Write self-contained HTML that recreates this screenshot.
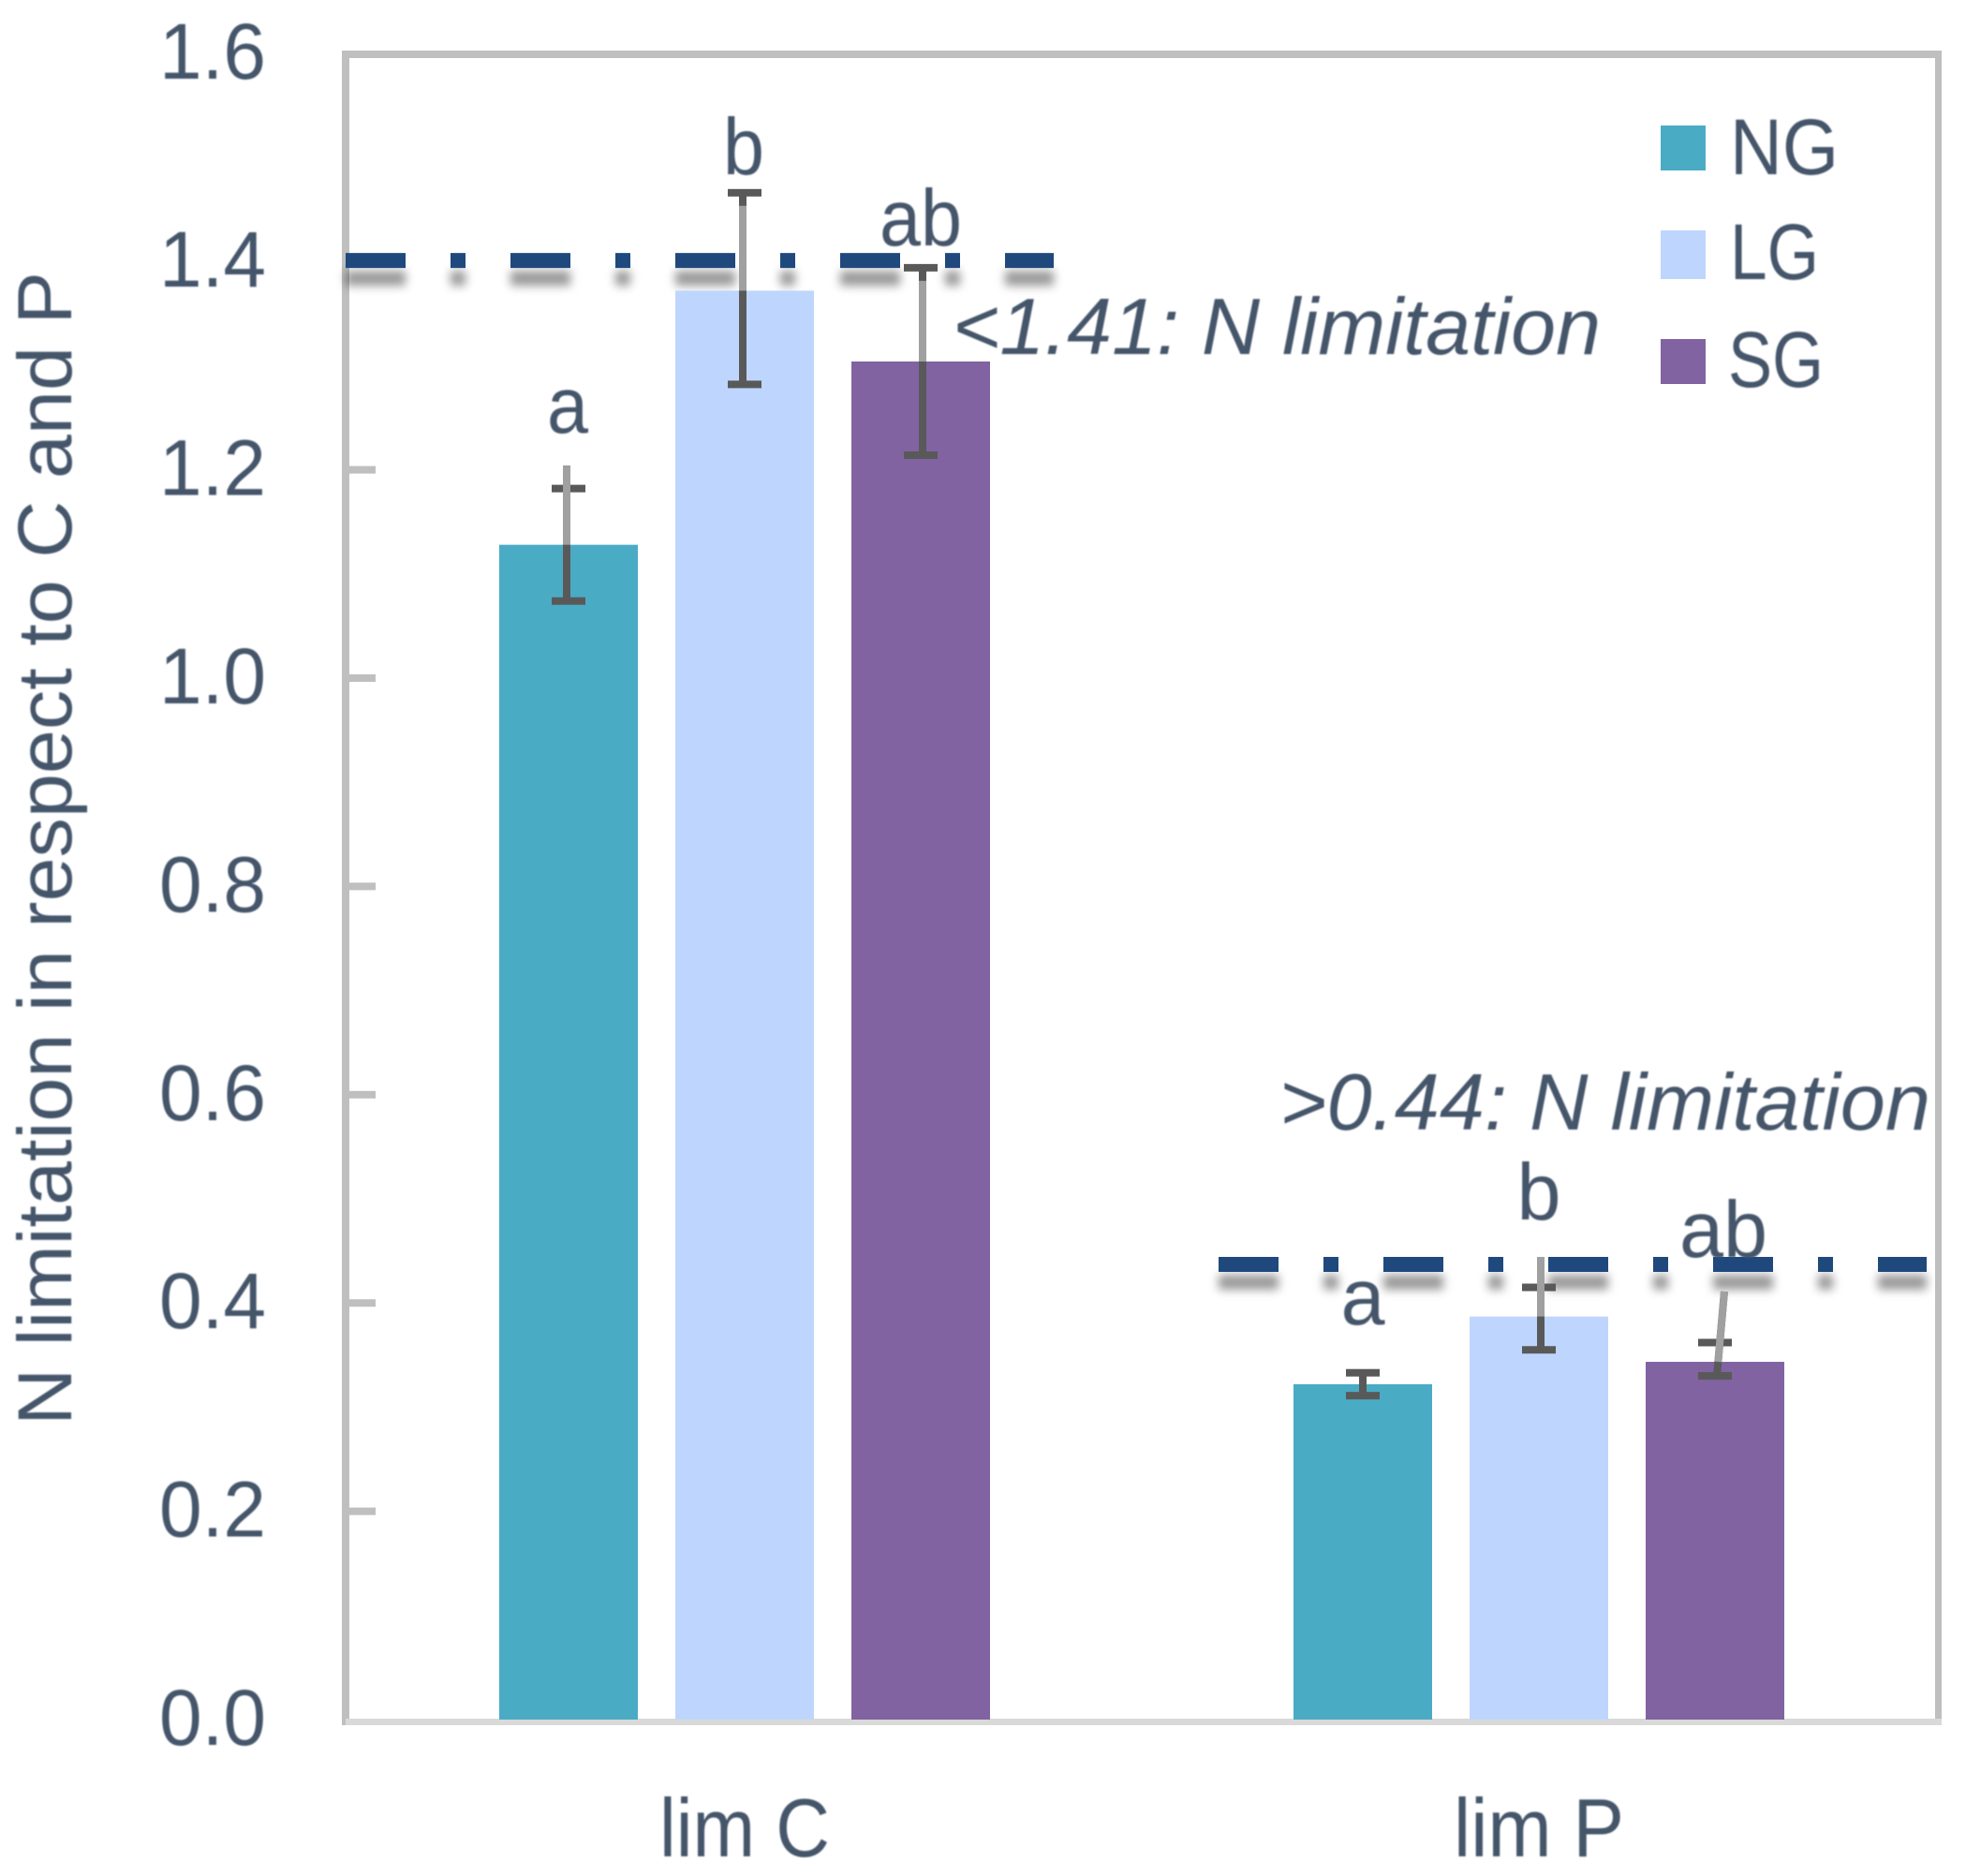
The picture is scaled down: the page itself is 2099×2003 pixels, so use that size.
<!DOCTYPE html>
<html lang="en">
<head>
<meta charset="utf-8">
<title>N limitation in respect to C and P</title>
<style>
  html, body { margin: 0; padding: 0; background: #ffffff; }
  body { width: 2099px; height: 2003px; overflow: hidden; }
  svg { display: block; }
  text { font-family: "Liberation Sans", sans-serif; fill: #44546a; }
</style>
</head>
<body>
<svg id="chart" xmlns="http://www.w3.org/2000/svg" width="2099" height="2003" viewBox="0 0 2099 2003">
  <defs>
    <filter id="dash-shadow-blur" filterUnits="userSpaceOnUse" x="0" y="0" width="2099" height="2003">
      <feGaussianBlur stdDeviation="5"></feGaussianBlur>
    </filter>
    <filter id="soft" filterUnits="userSpaceOnUse" x="0" y="0" width="2099" height="2003">
      <feGaussianBlur stdDeviation="0.7"></feGaussianBlur>
    </filter>
  </defs>

  <rect x="0" y="0" width="2099" height="2003" fill="#ffffff"></rect>

  <g id="frame">
    <rect x="365" y="54" width="1708" height="8" fill="#bfbfbf"></rect>
    <rect x="365" y="54" width="8" height="1788" fill="#bfbfbf"></rect>
    <rect x="2066" y="54" width="7" height="1788" fill="#bfbfbf"></rect>
    <rect x="369" y="1835" width="1704" height="7" fill="#d9d9d9"></rect>
  </g>

  <g id="ticks"></g>
  <g id="tick-labels" filter="url(#soft)"></g>
  <g id="thresholds"></g>
  <g id="bars"></g>
  <g id="errors"></g>
  <g id="letters" filter="url(#soft)"></g>
  <g id="cat-labels" filter="url(#soft)"></g>

  <g filter="url(#soft)">
    <text transform="translate(76,1522) rotate(-90)" x="0" y="0" font-size="82" textLength="1232" lengthAdjust="spacingAndGlyphs">N limitation in respect to C and P</text>
  </g>

  <text x="1017" y="378" font-size="85" font-style="italic" textLength="692" lengthAdjust="spacingAndGlyphs" filter="url(#soft)">&lt;1.41: N limitation</text>
  <text x="1366" y="1206" font-size="85" font-style="italic" textLength="695" lengthAdjust="spacingAndGlyphs" filter="url(#soft)">&gt;0.44: N limitation</text>

  <g id="legend">
    <g>
      <rect x="1773" y="134" width="48" height="48" fill="#4aabc5"></rect>
      <text x="1847" y="186" font-size="84" textLength="116" lengthAdjust="spacingAndGlyphs" filter="url(#soft)">NG</text>
    </g>
    <g>
      <rect x="1773" y="246" width="48" height="52" fill="#bed6fd"></rect>
      <text x="1847" y="298" font-size="84" textLength="95" lengthAdjust="spacingAndGlyphs" filter="url(#soft)">LG</text>
    </g>
    <g>
      <rect x="1773" y="362" width="48" height="48" fill="#8063a0"></rect>
      <text x="1845" y="413" font-size="84" textLength="102" lengthAdjust="spacingAndGlyphs" filter="url(#soft)">SG</text>
    </g>
  </g>
</svg>

<script>
// ---- chart data ----
const categories = ['lim C', 'lim P'];
const seriesNames = ['NG', 'LG', 'SG'];
const ngValues = [1.128, 0.322];
const lgValues = [1.372, 0.387];
const sgValues = [1.304, 0.3435];
const ngErrHigh = [1.182, 0.333];
const lgErrHigh = [1.466, 0.415];
const sgErrHigh = [1.394, 0.362];
const ngErrLow = [1.074, 0.311];
const lgErrLow = [1.282, 0.355];
const sgErrLow = [1.214, 0.330];
const ngStemTop = [1.204, 0.333];
const lgStemTop = [1.466, 0.444];
const sgStemTop = [1.394, 0.411];
const ngLetters = ['a', 'a'];
const lgLetters = ['b', 'b'];
const sgLetters = ['ab', 'ab'];
const ngLetterLevel = [1.2356, 0.3795];
const lgLetterLevel = [1.4838, 0.4802];
const sgLetterLevel = [1.4155, 0.4442];
const thresholdValues = [1.401, 0.437];
const yTicks = [0.0, 0.2, 0.4, 0.6, 0.8, 1.0, 1.2, 1.4, 1.6];
const yTickLabels = ['0.0', '0.2', '0.4', '0.6', '0.8', '1.0', '1.2', '1.4', '1.6'];

// ---- axis functions ----
const Y_ZERO = 1836, Y_UNIT = 1112;
const PLOT_LEFT = 371, PLOT_RIGHT = 2067;
const BAR_W = 148, BAR_STEP = 188;
function yScale(v) { return Y_ZERO - v * Y_UNIT; }
function xCenter(c) { return PLOT_LEFT + (PLOT_RIGHT - PLOT_LEFT) * (c + 0.5) / categories.length; }
function xBar(c, s) { return xCenter(c) + (s - 1) * BAR_STEP; }

const NS = 'http://www.w3.org/2000/svg';
function make(tag, attrs, parent) {
  const n = document.createElementNS(NS, tag);
  for (const k in attrs) n.setAttribute(k, attrs[k]);
  parent.appendChild(n);
  return n;
}

const seriesColors = ['#4aabc5', '#bed6fd', '#8063a0'];
const seriesValues = [ngValues, lgValues, sgValues];
const seriesHigh = [ngErrHigh, lgErrHigh, sgErrHigh];
const seriesLow = [ngErrLow, lgErrLow, sgErrLow];
const seriesStemTop = [ngStemTop, lgStemTop, sgStemTop];
const seriesLetters = [ngLetters, lgLetters, sgLetters];
const seriesLetterLevel = [ngLetterLevel, lgLetterLevel, sgLetterLevel];

// rendering nudges (hand-drawn look of the original error bars)
function stemNudge(c, s) {
  if (c === 0) return s === 2 ? [2, 2] : [-2, -2];
  if (s === 0) return [0, 0];
  if (s === 1) return [2, 2];
  return [10, 2];
}
function lightStart(c, s) {
  // stem is pale from this pixel down to the bar top, dark elsewhere
  if (c === 0 && s === 0) return yScale(ngStemTop[0]);
  if (c === 0) return yScale(seriesHigh[s][c]) + 14;
  if (s === 0) return yScale(ngValues[1]);
  return yScale(seriesStemTop[s][c]);
}

// ---- ticks ----
const tickG = document.getElementById('ticks');
const tickLabelG = document.getElementById('tick-labels');
yTicks.forEach(function (v, i) {
  if (v > 0 && v < 1.6) {
    const t = make('rect', { x: 373, y: yScale(v) - 4, width: 28, height: 8, fill: '#bfbfbf' }, tickG);
    
    
  }
  const l = make('text', {
    x: 170, y: yScale(v) + 27, 'font-size': 84,
    textLength: 114, lengthAdjust: 'spacingAndGlyphs'
  }, tickLabelG);
  
  
  l.textContent = yTickLabels[i];
});

// ---- threshold dash-dot lines ----
const thG = document.getElementById('thresholds');
thresholdValues.forEach(function (v, c) {
  const x1 = c === 0 ? PLOT_LEFT - 2 : xCenter(1) - 342;
  const x2 = x1 + 756;
  const y = yScale(v);
  const shadow = make('line', {
    x1: x1, x2: x2, y1: y + 19, y2: y + 19, stroke: '#000000', 'stroke-opacity': 0.4,
    'stroke-width': 16, 'stroke-dasharray': '64 48 16 48', filter: 'url(#dash-shadow-blur)'
  }, thG);
  
  
  const line = make('line', {
    x1: x1, x2: x2, y1: y, y2: y, stroke: '#1f497d',
    'stroke-width': 16, 'stroke-dasharray': '64 48 16 48'
  }, thG);
  
  
});

// ---- bars, error bars, letters ----
const barG = document.getElementById('bars');
const errG = document.getElementById('errors');
const letG = document.getElementById('letters');
const catG = document.getElementById('cat-labels');

categories.forEach(function (cat, c) {
  seriesNames.forEach(function (name, s) {
    const val = seriesValues[s][c];
    const cx = xBar(c, s);
    const top = yScale(val);

    const bar = make('rect', {
      x: cx - BAR_W / 2, y: top, width: BAR_W, height: Y_ZERO - top, fill: seriesColors[s]
    }, barG);
    
    

    const hiY = yScale(seriesHigh[s][c]);
    const loY = yScale(seriesLow[s][c]);
    const stemY = yScale(seriesStemTop[s][c]);
    const nudge = stemNudge(c, s);
    const xAt = function (py) {
      const f = (py - stemY) / (loY - stemY);
      return cx + nudge[0] + (nudge[1] - nudge[0]) * f;
    };

    const stem = make('line', {
      x1: xAt(stemY), y1: stemY, x2: xAt(loY), y2: loY, stroke: '#595959', 'stroke-width': 8
    }, errG);
    
    

    const capW = 36, capH = 8;
    const capTop = make('rect', { x: cx - capW / 2, y: hiY - capH / 2, width: capW, height: capH, fill: '#595959' }, errG);
    
    
    const capBot = make('rect', { x: cx - capW / 2, y: loY - capH / 2, width: capW, height: capH, fill: '#595959' }, errG);
    
    

    const ls = lightStart(c, s);
    if (ls < top) {
      const pale = make('line', {
        x1: xAt(ls), y1: ls, x2: xAt(top), y2: top, stroke: '#a0a0a0', 'stroke-width': 8
      }, errG);
      
      
    }

    const letter = seriesLetters[s][c];
    const perChar = c === 0 ? 44 : 47;
    const lx = cx + (c === 1 && s === 2 ? 9 : (c === 0 && s < 2 ? -1 : 0));
    const t = make('text', {
      x: lx, y: yScale(seriesLetterLevel[s][c]), 'font-size': 85, 'text-anchor': 'middle',
      textLength: perChar * letter.length, lengthAdjust: 'spacingAndGlyphs'
    }, letG);
    
    
    t.textContent = letter;
  });

  const cl = make('text', {
    x: xCenter(c), y: 1982, 'font-size': 88, 'text-anchor': 'middle',
    textLength: 182, lengthAdjust: 'spacingAndGlyphs'
  }, catG);
  
  
  cl.textContent = cat;
});
</script>
</body>
</html>
